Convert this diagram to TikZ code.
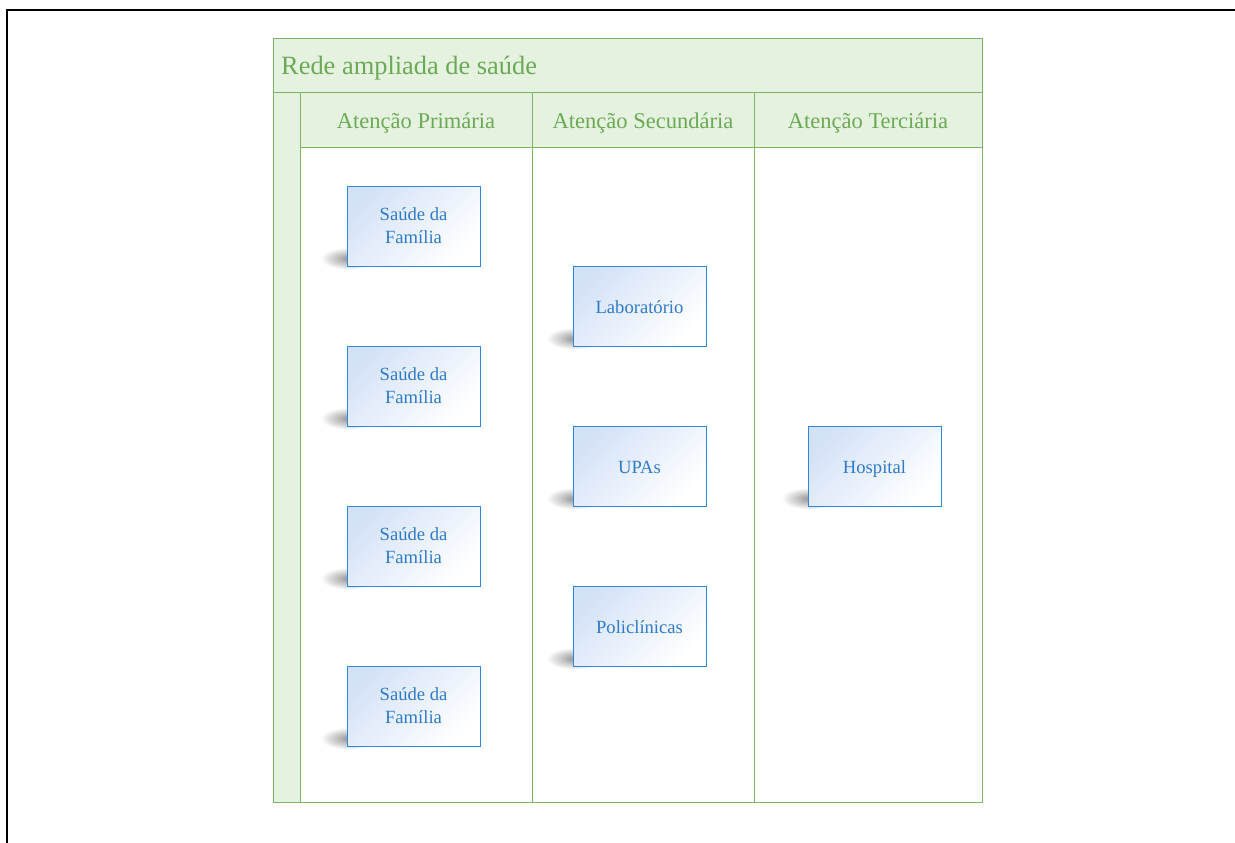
\documentclass[tikz,border=0pt]{standalone}
\usepackage{fontspec}
\setmainfont{Liberation Serif}
\usetikzlibrary{calc,fadings}

\definecolor{lanegreen}{HTML}{7AB563}
\definecolor{lanefill}{HTML}{E6F2E0}
\definecolor{lanetext}{HTML}{6BAA55}
\definecolor{boxblue}{HTML}{2E86DE}
\definecolor{boxtext}{HTML}{2F7BC8}
\definecolor{boxtint}{HTML}{D4E2F7}

\pgfdeclarelayer{background}
\pgfdeclarelayer{castshade}
\pgfsetlayers{background,castshade,main}

\tikzfading[name=softspot, inner color=transparent!0, outer color=transparent!100]

\tikzset{
  lanebox/.style={draw=lanegreen, line width=1pt},
  laneband/.style={lanebox, fill=lanefill},
  lanelabel/.style={text=lanetext, font=\fontsize{22.5}{27}\selectfont, inner sep=0pt},
  titlelabel/.style={text=lanetext, font=\fontsize{26.4}{31}\selectfont, inner sep=0pt, anchor=west},
  unitbox/.style={draw=boxblue, line width=0.9pt, minimum width=133, inner xsep=2pt, inner ysep=0pt,
    align=center, text=boxtext, font=\fontsize{18.6}{23}\selectfont,
    top color=boxtint, bottom color=white, shading angle=45},
  twolines/.style={unitbox, text height=57pt, text depth=23pt},
  oneline/.style={unitbox, text height=47pt, text depth=33pt},
  castspot/.style={fill=black, fill opacity=0.42, path fading=softspot},
  frameline/.style={line width=2.4pt, black}
}

\begin{document}
\begin{tikzpicture}[x=1pt, y=-1pt]
\useasboundingbox (0,0) rectangle (1235,843);

% page frame
\draw[frameline] (7,843) -- (7,10) -- (1235,10);

% swimlane pool
\begin{pgfonlayer}{background}
  \path[fill=white] (273,39) rectangle (982,802);
  \draw[laneband] (273,39) rectangle (982,93);
  \draw[laneband] (273,93) rectangle (300,802);
  \draw[laneband] (300,93) rectangle (982,147);
  \draw[lanebox] (273,39) rectangle (982,802);
  \draw[lanebox] (532,93) -- (532,802);
  \draw[lanebox] (754,93) -- (754,802);
  \draw[lanebox] (300,147) -- (300,802);
\end{pgfonlayer}

\node[titlelabel] (pool) at (281,68.5) {Rede ampliada de saúde};
\node[lanelabel] (lane1) at (416,123) {Atenção Primária};
\node[lanelabel] (lane2) at (643,123) {Atenção Secundária};
\node[lanelabel] (lane3) at (868,123) {Atenção Terciária};

% units of care
\node[twolines] (sf1) at (413.5,226) {Saúde da\\Família};
\node[twolines] (sf2) at (413.5,386) {Saúde da\\Família};
\node[twolines] (sf3) at (413.5,546) {Saúde da\\Família};
\node[twolines] (sf4) at (413.5,706) {Saúde da\\Família};
\node[oneline] (lab) at (639.5,306) {Laboratório};
\node[oneline] (upa) at (639.5,466) {UPAs};
\node[oneline] (poli) at (639.5,626) {Policlínicas};
\node[oneline] (hosp) at (874.5,466) {Hospital};

% soft shadows behind the lower left corners
\begin{pgfonlayer}{castshade}
  \foreach \n in {sf1,sf2,sf3,sf4,lab,upa,poli,hosp}{
    \path[castspot] ($(\n.south west)+(2,-8)$) ellipse [x radius=28, y radius=11];
  }
\end{pgfonlayer}
\end{tikzpicture}
\end{document}
